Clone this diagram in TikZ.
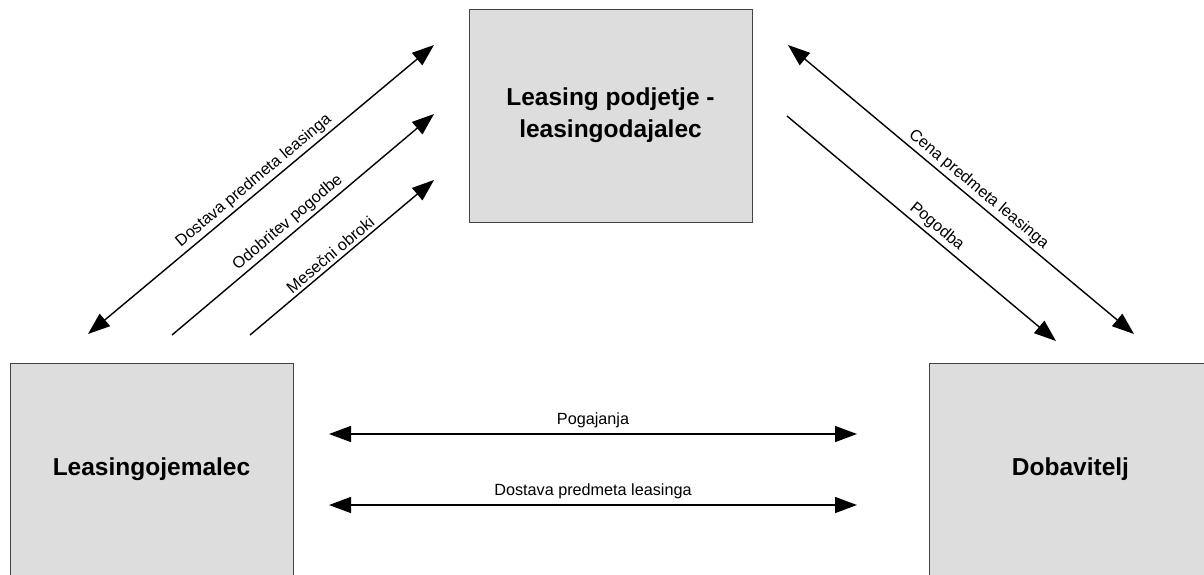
\documentclass[tikz,border=0pt]{standalone}
\usepackage{fontspec}
\setmainfont{Liberation Sans}
\usetikzlibrary{arrows.meta}
\definecolor{boxfill}{HTML}{DDDDDD}
\definecolor{boxline}{HTML}{444444}
\tikzset{
  party/.style={draw=boxline, line width=1pt, fill=boxfill, minimum width=283pt,
    minimum height=213pt, inner sep=0pt, align=center,
    font=\fontsize{24.5}{32}\selectfont\bfseries},
  tip/.tip={Triangle[length=22pt,width=16pt]},
  flow/.style={line width=1.4pt, -tip},
  bothflow/.style={line width=1.4pt, tip-tip},
  lbl/.style={font=\fontsize{16.2}{19}\selectfont, inner sep=3pt}
}
\begin{document}
\begin{tikzpicture}[x=1pt,y=-1pt]
\useasboundingbox (0,0) rectangle (1204,574);
\node[party] (top) at (610.5,115.5) {Leasing podjetje -\\leasingodajalec};
\node[party] (lj) at (151.5,469.5) {Leasingojemalec};
\node[party] (dob) at (1070.5,469.5) {Dobavitelj};
% left diagonal connectors
\coordinate (a1s) at (88,334);  \coordinate (a1e) at (434,45);
\coordinate (a2s) at (172,335); \coordinate (a2e) at (434,114);
\coordinate (a3s) at (250,335); \coordinate (a3e) at (434,180);
\draw[bothflow] (a1s) -- node[lbl, midway, above, sloped] {Dostava predmeta leasinga} (a1e);
\draw[flow] (a2s) -- node[lbl, pos=0.47, above, sloped] {Odobritev pogodbe} (a2e);
\draw[flow] (a3s) -- node[lbl, pos=0.47, above, sloped] {Mesečni obroki} (a3e);
% right diagonal connectors
\coordinate (b1s) at (788,45);  \coordinate (b1e) at (1134,334);
\coordinate (b2s) at (787,116); \coordinate (b2e) at (1056,341);
\draw[bothflow] (b1s) -- node[lbl, pos=0.53, above, sloped] {Cena predmeta leasinga} (b1e);
\draw[flow] (b2s) -- node[lbl, pos=0.53, above, sloped] {Pogodba} (b2e);
% horizontal connectors
\coordinate (h1s) at (329,434); \coordinate (h1e) at (857,434);
\coordinate (h2s) at (329,505); \coordinate (h2e) at (857,505);
\draw[bothflow] (h1s) -- node[lbl, midway, above, inner sep=5pt] {Pogajanja} (h1e);
\draw[bothflow] (h2s) -- node[lbl, midway, above, inner sep=5pt] {Dostava predmeta leasinga} (h2e);
\end{tikzpicture}
\end{document}
